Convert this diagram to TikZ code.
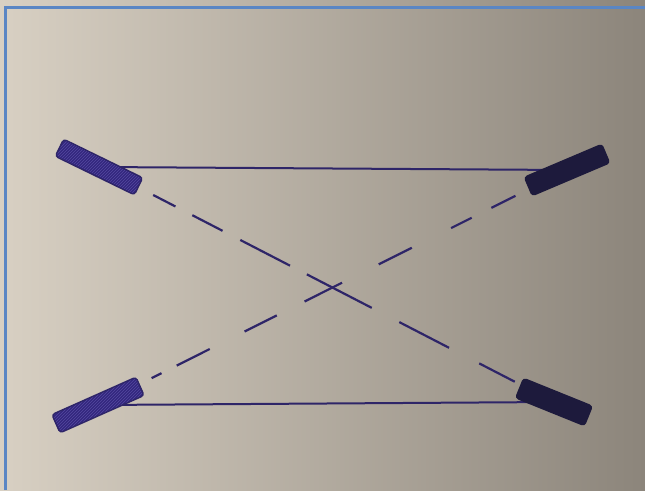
\documentclass[tikz,border=0pt]{standalone}
\usetikzlibrary{patterns}
\definecolor{paperL}{HTML}{D8D0C3}
\definecolor{paperR}{HTML}{8C857B}
\definecolor{frame}{HTML}{5A86C4}
\definecolor{ink}{HTML}{2E2568}
\definecolor{barviolet}{HTML}{33277E}
\definecolor{barhatch}{HTML}{54499F}
\definecolor{bardark}{HTML}{1D1A3C}
\pgfdeclarelayer{bg}
\pgfdeclarelayer{lines}
\pgfsetlayers{bg,lines,main}
\tikzset{
  barbase/.style={rectangle, inner sep=0pt, minimum width=88pt, minimum height=19pt, rounded corners=3pt},
  barlight/.style={barbase, draw=ink, line width=1.4pt, preaction={fill=barviolet}, pattern=north east lines, pattern color=barhatch},
  bardarkst/.style={barbase, draw=bardark, line width=1.4pt, fill=bardark},
  solidink/.style={draw=ink, line width=2pt, line cap=round},
  dashink/.style={draw=ink, line width=2.2pt},
}
\begin{document}
\begin{tikzpicture}[x=1pt,y=1pt]
\useasboundingbox (0,0) rectangle (645,-490);
% bars
\node[barlight, rotate=-26] (tl) at (99,-167) {};
\node[bardarkst, rotate=23, minimum width=84pt, minimum height=20pt] (tr) at (567,-170) {};
\node[barlight, rotate=24, minimum width=92pt, minimum height=20pt] (bl) at (98,-405) {};
\node[bardarkst, rotate=-22, minimum width=74pt, minimum height=21pt] (br) at (554,-402) {};
\begin{pgfonlayer}{bg}
  \shade[left color=paperL, right color=paperR] (0,0) rectangle (645,-490);
  \draw[frame, line width=3pt] (5,-490) -- (5,-7) -- (645,-7);
\end{pgfonlayer}
\begin{pgfonlayer}{lines}
  \draw[solidink] (tl.center) -- (tr.center);
  \draw[solidink] (bl.center) -- (br.center);
  \draw[dashink, shorten <=61pt, shorten >=44pt,
        dash pattern=on 25pt off 19pt on 34pt off 20pt on 56pt off 19pt on 73pt off 31pt on 56pt off 34pt on 40pt off 40pt]
        (tl.center) -- (br.center);
  \draw[dashink, shorten <=60pt, shorten >=56pt,
        dash pattern=on 11pt off 17pt on 37pt off 39pt on 36pt off 31pt on 42pt off 41pt on 37pt off 44pt on 23pt off 22pt on 27pt off 30pt]
        (bl.center) -- (tr.center);
\end{pgfonlayer}
\end{tikzpicture}
\end{document}
